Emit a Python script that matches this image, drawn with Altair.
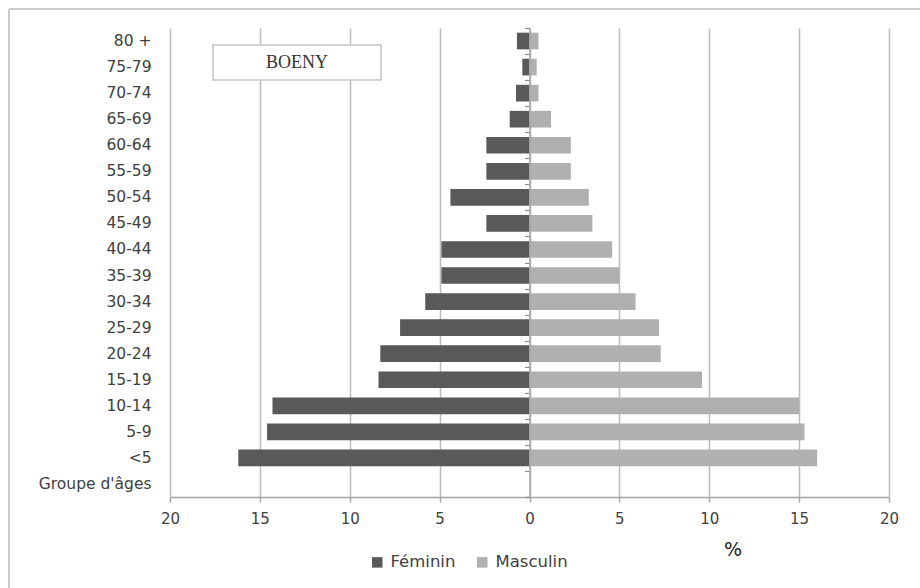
import altair as alt
import pandas as pd

# Age pyramid, Boeny region (percent of population by sex)
ages = ["80 +", "75-79", "70-74", "65-69", "60-64", "55-59", "50-54", "45-49",
        "40-44", "35-39", "30-34", "25-29", "20-24", "15-19", "10-14", "5-9", "<5"]
age_axis = ages + ["Groupe d'âges"]
feminin = [0.7, 0.4, 0.75, 1.1, 2.4, 2.4, 4.4, 2.4, 4.9, 4.9, 5.8, 7.2, 8.3, 8.4, 14.3, 14.6, 16.2]
masculin = [0.5, 0.4, 0.5, 1.2, 2.3, 2.3, 3.3, 3.5, 4.6, 5.0, 5.9, 7.2, 7.3, 9.6, 15.0, 15.3, 16.0]
sexes = ["Féminin", "Masculin"]
sex_colors = ["#595959", "#b0b0b0"]
x_ticks = [-20, -15, -10, -5, 0, 5, 10, 15, 20]

rows = []
for a, f, m in zip(ages, feminin, masculin):
    rows.append({"age": a, "sexe": "Féminin", "pct": -f})
    rows.append({"age": a, "sexe": "Masculin", "pct": m})
df = pd.DataFrame(rows)

W, H = 719, 469
FONT = "DejaVu Sans"
GRID = "#bdbdbd"
LINE = "#a6a6a6"
TXT = "#404040"

x_scale = alt.Scale(domain=[-20, 20], nice=False, zero=False)
y_scale = alt.Scale(domain=age_axis, paddingInner=0, paddingOuter=0)

x_axis = alt.Axis(values=x_ticks, labelExpr="format(abs(datum.value), 'd')",
                  title=None, grid=True, gridColor=GRID, gridWidth=1.5,
                  domainColor=LINE, domainWidth=1.5,
                  tickColor=LINE, tickWidth=1.5, tickSize=5,
                  labelPadding=9, labelFont=FONT, labelFontSize=15,
                  labelColor=TXT, labelFlush=False)

bars = alt.Chart(df).mark_bar(height=alt.RelativeBandSize(0.64)).encode(
    x=alt.X("pct:Q", scale=x_scale, axis=x_axis),
    y=alt.Y("age:N", scale=y_scale, sort=None,
            axis=alt.Axis(title=None, ticks=False, tickSize=0, domain=False,
                          labelPadding=19, labelFont=FONT, labelFontSize=15.5,
                          labelColor=TXT)),
    color=alt.Color("sexe:N", scale=alt.Scale(domain=sexes, range=sex_colors),
                    legend=alt.Legend(orient="none", legendX=199, legendY=526,
                                      direction="horizontal", title=None,
                                      symbolType="square", symbolSize=110,
                                      symbolStrokeWidth=0, labelFont=FONT,
                                      labelFontSize=16.5, labelColor=TXT,
                                      columnPadding=18, labelOffset=5)),
)

# vertical axis line at 0 with interval ticks
zero_axis = alt.Chart(df).mark_bar(opacity=0).encode(
    x=alt.X("pct:Q", scale=x_scale, axis=x_axis),
    y=alt.Y("age:N", scale=y_scale, sort=None,
            axis=alt.Axis(orient="left", offset=-W / 2, labels=False, title=None,
                          ticks=True, tickBand="extent", tickSize=5,
                          tickColor="#8c8c8c", tickWidth=1.2,
                          domain=True, domainColor=LINE, domainWidth=1.5,
                          grid=False, zindex=1)),
)

box = alt.Chart(pd.DataFrame({"t": ["BOENY"]})).mark_rect(
    fill="white", stroke="#c4c4c4", strokeWidth=1.5
).encode(x=alt.value(43), x2=alt.value(211), y=alt.value(17), y2=alt.value(52))

box_text = alt.Chart(pd.DataFrame({"t": ["BOENY"]})).mark_text(
    font="Liberation Serif", fontSize=18, color="#333333", baseline="middle", align="center"
).encode(text="t:N", x=alt.value(127), y=alt.value(35))

pct_label = alt.Chart(pd.DataFrame({"t": ["%"]})).mark_text(
    font=FONT, fontSize=19, color="#222222", baseline="middle", align="center"
).encode(text="t:N", x=alt.value(563), y=alt.value(522))

frame_top = alt.Chart(pd.DataFrame({"t": [0]})).mark_rule(
    color="#cccccc", strokeWidth=2
).encode(x=alt.value(-161), x2=alt.value(760), y=alt.value(-19))

frame_left = alt.Chart(pd.DataFrame({"t": [0]})).mark_rule(
    color="#cccccc", strokeWidth=2
).encode(x=alt.value(-161), y=alt.value(-19), y2=alt.value(570))

chart = alt.layer(
    bars, zero_axis, box, box_text, pct_label, frame_top, frame_left
).resolve_axis(y="independent").properties(
    width=W, height=H,
    autosize=alt.AutoSizeParams(type="none"),
    padding={"left": 170, "top": 28, "right": 31, "bottom": 91},
    background="white",
).configure_view(stroke=None)

chart.save("out.html", embed_options={"renderer": "svg", "actions": False})
